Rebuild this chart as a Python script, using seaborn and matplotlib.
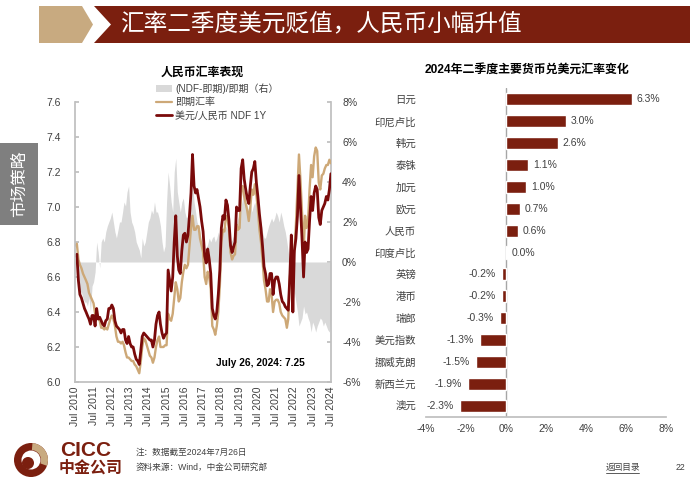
import pandas as pd
import matplotlib
matplotlib.use("Agg")
import matplotlib.pyplot as plt
import seaborn as sns
from matplotlib.patches import Polygon, Rectangle, Circle, Wedge, Patch
from matplotlib.lines import Line2D

# ---------------------------------------------------------------
# Data
# ---------------------------------------------------------------
# monthly readings, Jul 2010 .. Jul 2024
months = pd.date_range("2010-07-01", "2024-07-01", freq="MS")

spot_rate = [
    6.78, 6.79, 6.70, 6.67, 6.65, 6.62,                                # 2010 H2
    6.60, 6.58, 6.56, 6.51, 6.49, 6.47, 6.45, 6.39, 6.38, 6.36, 6.35, 6.31,  # 2011
    6.31, 6.30, 6.31, 6.30, 6.33, 6.36, 6.38, 6.36, 6.32, 6.26, 6.23, 6.23,  # 2012
    6.22, 6.23, 6.21, 6.17, 6.14, 6.14, 6.13, 6.12, 6.12, 6.10, 6.09, 6.07,  # 2013
    6.05, 6.12, 6.20, 6.25, 6.24, 6.21, 6.18, 6.15, 6.14, 6.11, 6.14, 6.20,  # 2014
    6.24, 6.26, 6.20, 6.20, 6.20, 6.21, 6.21, 6.39, 6.36, 6.35, 6.39, 6.48,  # 2015
    6.57, 6.53, 6.46, 6.48, 6.57, 6.63, 6.67, 6.65, 6.67, 6.77, 6.88, 6.95,  # 2016
    6.87, 6.87, 6.89, 6.89, 6.82, 6.78, 6.74, 6.60, 6.56, 6.63, 6.60, 6.53,  # 2017
    6.32, 6.30, 6.27, 6.32, 6.40, 6.55, 6.80, 6.87, 6.86, 6.95, 6.94, 6.87,  # 2018
    6.74, 6.70, 6.72, 6.73, 6.90, 6.87, 6.88, 7.10, 7.12, 7.06, 7.02, 6.98,  # 2019
    6.92, 7.00, 7.10, 7.07, 7.13, 7.07, 6.98, 6.87, 6.80, 6.70, 6.58, 6.53,  # 2020
    6.46, 6.46, 6.53, 6.50, 6.40, 6.46, 6.47, 6.47, 6.45, 6.40, 6.38, 6.37,  # 2021
    6.36, 6.31, 6.36, 6.60, 6.67, 6.70, 6.75, 6.90, 7.10, 7.30, 7.15, 6.97,  # 2022
    6.74, 6.95, 6.88, 6.92, 7.10, 7.24, 7.17, 7.29, 7.34, 7.32, 7.14, 7.10,  # 2023
    7.18, 7.19, 7.22, 7.24, 7.24, 7.27, 7.25,                          # 2024
]

ndf_1y = [
    6.72, 6.73, 6.58, 6.50, 6.48, 6.45,
    6.42, 6.40, 6.38, 6.36, 6.33, 6.38, 6.38, 6.32, 6.42, 6.36, 6.37, 6.35,
    6.33, 6.32, 6.35, 6.36, 6.42, 6.42, 6.44, 6.42, 6.35, 6.32, 6.31, 6.30,
    6.28, 6.30, 6.30, 6.24, 6.22, 6.26, 6.22, 6.20, 6.20, 6.16, 6.13, 6.12,
    6.10, 6.18, 6.26, 6.28, 6.27, 6.26, 6.25, 6.24, 6.24, 6.20, 6.24, 6.33,
    6.38, 6.40, 6.33, 6.28, 6.25, 6.27, 6.28, 6.64, 6.58, 6.52, 6.60, 6.80,
    6.95, 6.72, 6.64, 6.62, 6.75, 6.84, 6.85, 6.80, 6.84, 6.95, 7.08, 7.30,
    7.12, 7.08, 7.10, 7.05, 7.00, 6.92, 6.86, 6.72, 6.68, 6.76, 6.70, 6.62,
    6.42, 6.38, 6.36, 6.40, 6.50, 6.64, 6.88, 6.95, 6.93, 7.04, 7.01, 6.92,
    6.78, 6.74, 6.77, 6.80, 7.00, 6.98, 6.98, 7.22, 7.27, 7.16, 7.10, 7.05,
    7.02, 7.12, 7.20, 7.22, 7.26, 7.14, 7.06, 6.96, 6.88, 6.78, 6.66, 6.62,
    6.55, 6.56, 6.62, 6.62, 6.50, 6.58, 6.60, 6.60, 6.56, 6.50, 6.46, 6.45,
    6.43, 6.42, 6.41, 6.60, 6.84, 6.40, 6.75, 6.82, 6.95, 7.18, 7.00, 6.82,
    6.60, 6.80, 6.74, 6.76, 6.92, 7.06, 6.98, 7.08, 7.12, 7.10, 6.94, 6.90,
    6.98, 7.00, 7.02, 7.06, 7.04, 7.10, 7.19,
]

# (NDF - spot) / spot, in %
ndf_spread = [
    0.3, -0.5, -1.0, -1.5, -1.5, -1.8,
    -2.0, -2.0, -2.2, -1.8, -2.5, -1.2, -1.0, -0.5, 1.0, 0.5, -0.3, 1.0,
    1.2, 1.0, 1.5, 1.8, 2.0, 2.2, 2.5, 2.0, 1.5, 1.2, 1.6, 2.0,
    2.0, 2.5, 3.0, 2.8, 3.5, 3.8, 2.5, 2.0, 1.8, 1.5, 1.0, 0.8,
    0.6, 0.2, 1.2, 0.8, 1.0, 1.5, 2.0, 2.2, 2.6, 2.4, 3.0, 2.5,
    2.5, 2.2, 1.8, 1.0, 0.5, 0.8, 3.0, 4.5, 3.8, 3.0, 2.5, 4.5,
    5.2, 3.5, 3.0, 2.5, 3.0, 3.2, 2.5, 2.2, 2.3, 2.5, 2.8, 4.0,
    3.0, 2.5, 2.0, 1.8, 1.5, 1.0, 0.8, 0.6, 0.7, 0.9, 1.2, 1.0,
    1.2, 1.3, 1.0, 1.2, 1.5, 1.2, 1.5, 1.7, 1.5, 1.8, 1.6, 1.2,
    1.0, 1.1, 1.3, 1.5, 2.0, 2.2, 2.5, 2.8, 3.2, 3.6, 3.0, 2.8,
    2.5, 3.0, 2.5, 2.8, 3.0, 2.6, 2.5, 2.2, 2.0, 1.5, 1.2, 1.2,
    1.5, 1.8, 2.0, 2.2, 2.0, 2.2, 2.5, 2.3, 2.0, 2.5, 2.2, 1.8,
    1.5, 1.0, 0.5, 0.0, -0.5, -1.0, -1.5, -2.0, -2.5, -3.2, -3.0, -2.8,
    -2.2, -2.6, -2.5, -2.8, -3.0, -3.5, -3.0, -3.2, -3.5, -3.2, -3.0, -2.8,
    -2.9, -3.2, -3.0, -3.2, -3.4, -3.5, -2.8,
]

tick_years = list(range(2010, 2025))
left_ticks = [6.0, 6.2, 6.4, 6.6, 6.8, 7.0, 7.2, 7.4, 7.6]
right_ticks = [-6, -4, -2, 0, 2, 4, 6, 8]

currencies = ["日元", "印尼卢比", "韩元", "泰铢", "加元", "欧元", "人民币", "印度卢比",
              "英镑", "港币", "瑞郎", "美元指数", "挪威克朗", "新西兰元", "澳元"]
q2_change = [6.3, 3.0, 2.6, 1.1, 1.0, 0.7, 0.6, 0.04,
             -0.2, -0.2, -0.3, -1.3, -1.5, -1.9, -2.3]
bar_ticks = [-4, -2, 0, 2, 4, 6, 8]

# ---------------------------------------------------------------
# Style
# ---------------------------------------------------------------
sns.set_theme(style="white")
plt.rcParams['font.family'] = ['Liberation Sans', 'Noto Sans CJK SC', 'DejaVu Sans']

DARK = "#7B1F0F"
NDF_RED = "#7A0A0A"
TAN = "#CDA877"
GREY_FILL = "#D9D9D9"
SPINE = "#BFBFBF"
TXT = "#404040"

W, H = 700, 490
fig = plt.figure(figsize=(7, 4.9), dpi=100)

# background layer in pixel coordinates
bg = fig.add_axes([0, 0, 1, 1])
bg.set_xlim(0, W)
bg.set_ylim(H, 0)
bg.axis("off")
bg.set_zorder(-5)

# title banner
bg.add_patch(Polygon([(39, 6), (82, 6), (93, 24.5), (82, 43), (39, 43)], color="#C8AA80", lw=0))
bg.add_patch(Polygon([(94, 6), (690, 6), (690, 43), (94, 43), (111, 24.5)], color=DARK, lw=0))
bg.text(120, 25, "汇率二季度美元贬值，人民币小幅升值", color="white", fontsize=17, va="center")

# side tab
bg.add_patch(Rectangle((0, 143), 38, 82, color="#7F7F7F", lw=0))
bg.text(19, 184, "市场策略", color="white", fontsize=12, rotation=90, ha="center", va="center")

# footer logo and notes
bg.add_patch(Circle((31, 460), 17, color=DARK, lw=0))
bg.add_patch(Wedge((31, 460), 17, 275, 20, width=7, color="#C8AA80", lw=0))
bg.add_patch(Circle((31, 460), 9.5, color="white", lw=0))
bg.add_patch(Circle((28, 463), 6, color=DARK, lw=0))
bg.text(60, 450, "CICC", color=DARK, fontsize=15, fontweight="bold", va="center")
bg.text(59, 468, "中金公司", color=DARK, fontsize=11.5, fontweight="bold", va="center")
bg.text(136, 452, "注：数据截至2024年7月26日", color=TXT, fontsize=6.2, va="center")
bg.text(136, 467, "资料来源：Wind，中金公司研究部", color=TXT, fontsize=6.2, va="center")
bg.text(606, 467, "返回目录", color=TXT, fontsize=6.2, va="center")
bg.plot([606, 639], [473, 473], color=TXT, lw=0.6)
bg.text(676, 467, "22", color=TXT, fontsize=6.2, va="center")

# ---------------------------------------------------------------
# Left chart: RMB exchange rate
# ---------------------------------------------------------------
ax = fig.add_axes([75 / W, 1 - 382 / H, 256 / W, 280 / H])
ax2 = ax.twinx()
ax2.fill_between(months, 0, ndf_spread, color=GREY_FILL, lw=0)
ax2.set_ylim(-6, 8)
ax2.set_yticks(right_ticks)
ax2.set_yticklabels([f"{t}%" for t in right_ticks])

sns.lineplot(x=months, y=spot_rate, ax=ax, color=TAN, linewidth=1.7)
sns.lineplot(x=months, y=ndf_1y, ax=ax, color=NDF_RED, linewidth=2.0)
ax.set_zorder(ax2.get_zorder() + 1)
ax.patch.set_visible(False)

ax.set_ylim(6.0, 7.6)
ax.set_yticks(left_ticks)
ax.set_yticklabels([f"{t:.1f}" for t in left_ticks])
ax.set_xlim(pd.Timestamp("2010-06-25"), pd.Timestamp("2024-07-03"))
ax.set_xticks([pd.Timestamp(f"{y}-07-01") for y in tick_years])
ax.set_xticklabels([f"Jul {y}" for y in tick_years], rotation=90)
ax.set_xlabel("")
ax.set_ylabel("")

ax.spines["top"].set_visible(False)
ax2.spines["top"].set_visible(False)
ax.spines["right"].set_visible(False)
ax2.spines["left"].set_visible(False)
ax2.spines["bottom"].set_visible(False)
ax.spines["left"].set_color(SPINE)
ax.spines["bottom"].set_color(SPINE)
ax2.spines["right"].set_color(SPINE)
ax.tick_params(axis="both", direction="in", length=3, color=SPINE, labelsize=7.5,
               labelcolor=TXT, pad=3)
ax.tick_params(axis="y", pad=10)
ax2.tick_params(axis="y", direction="in", length=3, color=SPINE, labelsize=7.5,
                labelcolor=TXT, pad=8)

handles = [Patch(facecolor=GREY_FILL, edgecolor="none"),
           Line2D([], [], color=TAN, lw=1.6),
           Line2D([], [], color=NDF_RED, lw=2)]
labels = ["(NDF-即期)/即期（右）", "即期汇率", "美元/人民币 NDF 1Y"]
ax.legend(handles, labels, loc="upper left", bbox_to_anchor=(156 / W, 1 - 83 / H),
          bbox_transform=fig.transFigure, frameon=False, fontsize=7.2,
          handlelength=1.6, handletextpad=0.3, labelspacing=0.35,
          borderpad=0, borderaxespad=0, labelcolor=TXT)

fig.text(202 / W, 1 - 73 / H, "人民币汇率表现", fontsize=8.6, fontweight="bold",
         ha="center", va="center", color="black")
fig.text(216 / W, 1 - 363 / H, "July 26, 2024: 7.25", fontsize=7.3, fontweight="bold",
         va="center", color="black")

# ---------------------------------------------------------------
# Right chart: Q2 2024 change vs USD
# ---------------------------------------------------------------
axb = fig.add_axes([425.7 / W, 1 - 416.6 / H, 240.3 / W, 328.2 / H])
sns.barplot(x=q2_change, y=currencies, orient="h", color=DARK, saturation=1,
            width=0.55, ax=axb)
axb.set_xlim(-4, 8)
axb.set_xticks(bar_ticks)
axb.set_xticklabels([f"{t}%" for t in bar_ticks])
axb.axvline(0, color="#A6A6A6", lw=1, zorder=0)
for i, v in enumerate(q2_change):
    if v >= 0:
        axb.text(v + 0.25, i, f"{v:.1f}%", va="center", ha="left", fontsize=7.5, color=TXT)
    else:
        axb.text(v - 0.3, i, f"{v:.1f}%", va="center", ha="right", fontsize=7.5, color=TXT)
for side in ("top", "right", "left"):
    axb.spines[side].set_visible(False)
axb.spines["bottom"].set_color(SPINE)
axb.tick_params(axis="x", direction="in", length=3, color=SPINE, labelsize=7.5,
                labelcolor=TXT, pad=5)
axb.tick_params(axis="y", length=0, labelsize=7.5, labelcolor=TXT, pad=7)
axb.set_xlabel("")
axb.set_ylabel("")

fig.text(527 / W, 1 - 70 / H, "2024年二季度主要货币兑美元汇率变化", fontsize=8.6,
         fontweight="bold", ha="center", va="center", color="black")

fig.savefig("out.png", dpi=100)
